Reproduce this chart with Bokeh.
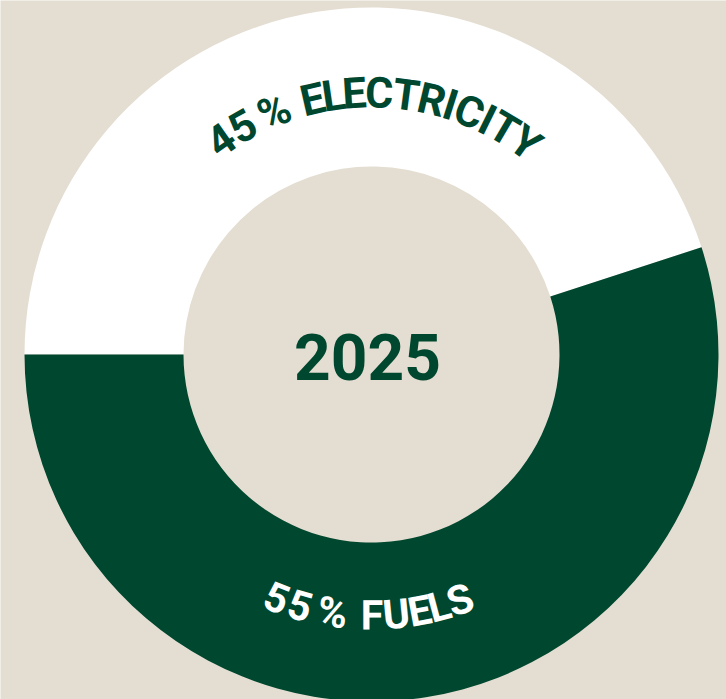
import math
from bokeh.plotting import figure
from bokeh.models import ColumnDataSource
from bokeh.core.properties import value
from bokeh.embed import file_html
from bokeh.resources import INLINE

# ---- data ----
categories = ["Electricity", "Fuels"]
shares = [45, 55]
labels = ["45 % ELECTRICITY", "55 % FUELS"]
center_label = "2025"

# ---- style ----
BG = "#e4ddd1"
GREEN = "#00472f"
WHITE = "#ffffff"
wedge_colors = [WHITE, GREEN]
label_colors = [GREEN, WHITE]
label_sizes = [43, 41]
label_center_deg = [89.5, 269.3]   # where each curved label is centred
label_radius = [262, 261]
OUTER_R, INNER_R = 347, 188
START_DEG = 180  # first slice starts at 9 o'clock, clockwise

W, H = 726, 699
CX, CY = 371, 354

p = figure(width=W, height=H, x_range=(-CX, W - CX), y_range=(-(H - CY), CY),
           output_backend="svg", toolbar_location=None, min_border=0)
p.axis.visible = False
p.grid.visible = False
p.outline_line_color = None
p.background_fill_color = BG
p.border_fill_color = BG

# wedges (clockwise from START_DEG)
total = sum(shares)
starts, ends = [], []
a = math.radians(START_DEG)
for s in shares:
    starts.append(a)
    a -= 2 * math.pi * s / total
    ends.append(a)
src = ColumnDataSource(dict(cat=categories, share=shares, start=starts, end=ends, color=wedge_colors))
p.annular_wedge(x=0, y=0, inner_radius=INNER_R, outer_radius=OUTER_R,
                start_angle="start", end_angle="end", direction="clock",
                fill_color="color", line_color=None, source=src)

# approximate advance widths (em) for per-character curved layout
adv = {"%": 0.78, " ": 0.30, "E": 0.51, "L": 0.47, "C": 0.65, "T": 0.60, "R": 0.62,
       "I": 0.28, "Y": 0.60, "F": 0.55, "U": 0.64, "S": 0.60}

def curved(text, size, center_deg, r, top):
    ws = []
    for i, ch in enumerate(text):
        if ch == " " and i + 1 < len(text) and text[i + 1] == "%":
            ws.append(0.12 * size)   # thin gap before the percent sign
        else:
            ws.append(adv.get(ch, 0.60) * size)
    tot = sum(ws)
    xs, ys, angs, chars = [], [], [], []
    cum = 0.0
    c = math.radians(center_deg)
    for ch, w in zip(text, ws):
        d = (cum + w / 2 - tot / 2) / r
        cum += w
        if ch == " ":
            continue
        th = c - d if top else c + d
        xs.append(r * math.cos(th))
        ys.append(r * math.sin(th))
        angs.append(th - math.pi / 2 if top else th + math.pi / 2)
        chars.append(ch)
    return dict(x=xs, y=ys, angle=angs, ch=chars)

for i, lab in enumerate(labels):
    d = curved(lab, label_sizes[i], label_center_deg[i], label_radius[i], top=(i == 0))
    p.text(x="x", y="y", text="ch", angle="angle", source=ColumnDataSource(d),
           text_font=value("Roboto"), text_font_style="bold",
           text_font_size=f"{label_sizes[i]}px", text_color=label_colors[i],
           text_align="center", text_baseline="middle")

p.text(x=[-4], y=[-2], text=[center_label], text_font=value("Roboto"),
       text_font_style="bold", text_font_size="64px", text_color=GREEN,
       text_align="center", text_baseline="middle")

open("out.html", "w").write(file_html(p, INLINE))
